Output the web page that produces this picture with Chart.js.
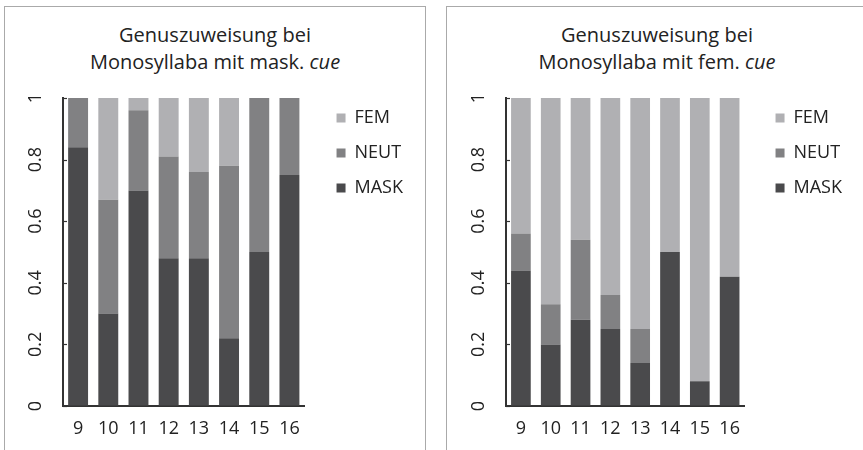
<!DOCTYPE html>
<html>
<head>
<meta charset="utf-8">
<script src="https://cdn.jsdelivr.net/npm/chart.js@4.4.1/dist/chart.umd.min.js"></script>
<style>
  body { margin: 0; background: #fff; font-family: "Open Sans", sans-serif; }
  #page { position: relative; width: 863px; height: 450px; overflow: hidden; }
  .box { position: absolute; top: 6px; height: 470px; border: 1.5px solid #aaa; border-bottom: none; }
  .title { position: absolute; left: 0; right: 0; top: 14px; text-align: center; font-size: 20px; line-height: 27px; color: #222; }
  canvas { position: absolute; }
</style>
</head>
<body>
<div id="page">
  <div class="box" style="left:4px; width:420px;">
    <div class="title">Genuszuweisung bei<br>Monosyllaba mit mask. <i>cue</i></div>
  </div>
  <div class="box" style="left:446px; width:440px;">
    <div class="title" style="width:420px;">Genuszuweisung bei<br>Monosyllaba mit fem. <i>cue</i></div>
  </div>
  <canvas id="chartMask" style="left:8px; top:80px; width:416px; height:370px;"></canvas>
  <canvas id="chartFem" style="left:449px; top:80px; width:413px; height:370px;"></canvas>
</div>
<script>
const ages = ['9', '10', '11', '12', '13', '14', '15', '16'];

// Monosyllaba mit mask. cue
const maskCueMask = [0.84, 0.30, 0.70, 0.48, 0.48, 0.22, 0.50, 0.75];
const maskCueNeut = [0.16, 0.37, 0.26, 0.33, 0.28, 0.56, 0.50, 0.25];
const maskCueFem  = [0.00, 0.33, 0.04, 0.19, 0.24, 0.22, 0.00, 0.00];

// Monosyllaba mit fem. cue
const femCueMask = [0.44, 0.20, 0.28, 0.25, 0.14, 0.50, 0.08, 0.42];
const femCueNeut = [0.12, 0.13, 0.26, 0.11, 0.11, 0.00, 0.00, 0.00];
const femCueFem  = [0.44, 0.67, 0.46, 0.64, 0.75, 0.50, 0.92, 0.58];

const yTicks = [0, 0.2, 0.4, 0.6, 0.8, 1];

const colors = { MASK: '#4a4a4c', NEUT: '#818183', FEM: '#b0b0b3' };
const fontFamily = '"Open Sans", sans-serif';

// short tick marks pointing into the plot
const innerTicks = {
  id: 'innerTicks',
  afterDraw(chart) {
    const y = chart.scales.y;
    const ctx = chart.ctx;
    ctx.save();
    ctx.strokeStyle = '#333';
    ctx.lineWidth = 1.2;
    yTicks.forEach(v => {
      const py = Math.round(y.getPixelForValue(v)) + 0.5;
      ctx.beginPath();
      ctx.moveTo(y.right, py);
      ctx.lineTo(y.right + 4, py);
      ctx.stroke();
    });
    ctx.restore();
  }
};

// nudge the legend: a gap after the plot, and a bit higher
const legendShift = {
  id: 'legendShift',
  afterLayout(chart, args, opts) {
    const lg = chart.legend;
    lg.left += opts.dx;
    lg.right += opts.dx;
    lg.top += opts.dy;
    lg.bottom += opts.dy;
  }
};

function makeChart(id, mask, neut, fem, yWidth, padRight, dx) {
  return new Chart(document.getElementById(id), {
    type: 'bar',
    data: {
      labels: ages,
      datasets: [
        { label: 'MASK', data: mask, backgroundColor: colors.MASK },
        { label: 'NEUT', data: neut, backgroundColor: colors.NEUT },
        { label: 'FEM', data: fem, backgroundColor: colors.FEM }
      ]
    },
    options: {
      responsive: false,
      animation: false,
      locale: 'en',
      layout: { padding: { top: 18, right: padRight, bottom: 0, left: 0 } },
      datasets: { bar: { categoryPercentage: 1, barPercentage: 0.66 } },
      scales: {
        x: {
          stacked: true,
          grid: { drawOnChartArea: false, drawTicks: false },
          border: { display: true, color: '#333', width: 2 },
          ticks: { color: '#222', padding: 12, font: { family: fontFamily, size: 18 } },
          afterFit: s => { s.height = 44; }
        },
        y: {
          stacked: true,
          min: 0,
          max: 1,
          afterBuildTicks: s => { s.ticks = yTicks.map(v => ({ value: v })); },
          grid: { drawOnChartArea: false, drawTicks: false },
          border: { display: true, color: '#333', width: 2 },
          ticks: {
            color: '#222',
            minRotation: 90,
            maxRotation: 90,
            crossAlign: 'center',
            padding: 14,
            font: { family: fontFamily, size: 18 },
            callback: v => String(+v.toFixed(1))
          },
          afterFit: s => {
            s.width = yWidth;
            s.paddingTop = 0;
            s.paddingBottom = 0;
          }
        }
      },
      plugins: {
        title: { display: false },
        tooltip: { enabled: false },
        legendShift: { dx: dx, dy: -6 },
        legend: {
          position: 'right',
          align: 'start',
          reverse: true,
          labels: {
            color: '#222',
            boxWidth: 9,
            boxHeight: 9,
            padding: 17,
            font: { family: fontFamily, size: 18 }
          }
        }
      }
    },
    plugins: [innerTicks, legendShift]
  });
}

makeChart('chartMask', maskCueMask, maskCueNeut, maskCueFem, 55, 26, 15);
makeChart('chartFem', femCueMask, femCueNeut, femCueFem, 57, 24, 14);
</script>
</body>
</html>
